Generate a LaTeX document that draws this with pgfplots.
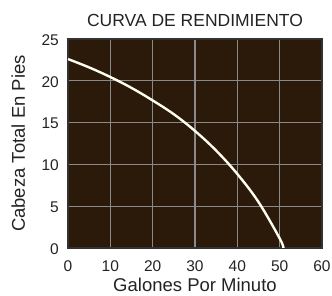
\documentclass[border=0pt]{standalone}
\usepackage{pgfplots}
\pgfplotsset{compat=1.18}
\usepackage{fontspec}
\setmainfont{Liberation Sans}
\definecolor{bgbrown}{RGB}{43,26,10}
\definecolor{gridgray}{RGB}{138,138,138}
\definecolor{framegray}{RGB}{50,50,50}
\definecolor{txt}{RGB}{35,35,35}
\definecolor{curve}{RGB}{255,252,240}
\begin{document}
\begin{tikzpicture}
\path[use as bounding box] (-68pt,-48pt) rectangle (264pt,248pt);
\begin{axis}[
  at={(0,0)}, anchor=south west,
  scale only axis, width=254pt, height=209pt,
  xmin=0, xmax=60, ymin=0, ymax=25,
  xtick={0,10,...,60}, ytick={0,5,...,25},
  grid=major,
  major grid style={gridgray, line width=1.2pt},
  major tick length=0pt,
  axis background/.style={fill=bgbrown},
  axis line style={framegray, line width=1.4pt},
  tick label style={font=\fontsize{15.5}{18}\selectfont, text=txt},
  /pgf/number format/assume math mode=true,
  xticklabel style={anchor=base, yshift=-24pt},
  yticklabel style={anchor=east, inner sep=0pt, xshift=-9pt, yshift=-1pt},
  every axis x label/.style={at={(axis description cs:0.5,0)}, yshift=-44pt, anchor=base, font=\fontsize{18.5}{22}\selectfont, text=txt},
  every axis y label/.style={at={(axis description cs:0,0.5)}, xshift=-43pt, rotate=90, anchor=base, font=\fontsize{18.5}{22}\selectfont, text=txt},
  every axis title/.style={at={(axis description cs:0.5,1)}, yshift=12pt, anchor=base, font=\fontsize{17.5}{21}\selectfont, text=txt},
  xlabel={Galones Por Minuto},
  ylabel={Cabeza Total En Pies},
  title={CURVA DE RENDIMIENTO},
  clip=true,
]
\addplot[curve, line width=2.4pt, smooth, tension=0.6] coordinates {
  (0,22.6) (5,21.6) (10,20.45) (15,19.15) (20,17.65) (25,16.0)
  (30,14.0) (35,11.65) (40,8.85) (45,5.5) (50,1.15) (50.9,0)
};
\end{axis}
\end{tikzpicture}
\end{document}
